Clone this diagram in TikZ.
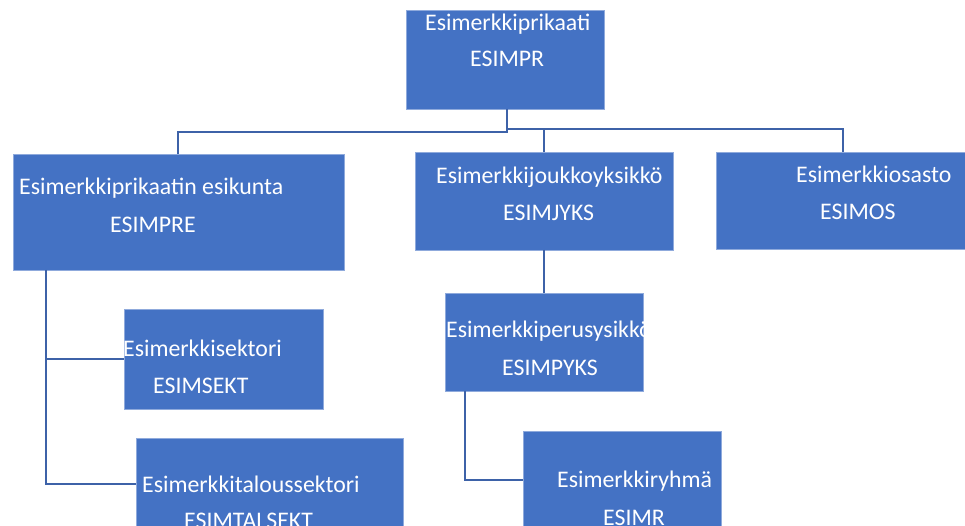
\documentclass[tikz,border=0pt]{standalone}
\usepackage{fontspec}
\setmainfont{Carlito}
\definecolor{boxblue}{HTML}{4472C4}
\definecolor{boxedge}{HTML}{8FAADC}
\definecolor{linkblue}{HTML}{3D62A8}
\begin{document}
\begin{tikzpicture}[x=1pt,y=-1pt,
  orgbox/.style={draw=boxedge,line width=0.8pt,fill=boxblue},
  lbl/.style={anchor=base west,inner sep=0pt,text=white,font=\fontsize{23.8}{28}\selectfont},
  link/.style={draw=linkblue,line width=2.2pt}]
\useasboundingbox (0,0) rectangle (965,526);
\clip (0,0) rectangle (965,526);
% connectors
\coordinate (jL) at (178,132);
\coordinate (jM) at (507,132);
\coordinate (jR) at (507,129);
\coordinate (jJ) at (544,129);
\coordinate (jO) at (843,129);
\coordinate (jS) at (46,359);
\coordinate (jT) at (46,484);
\coordinate (jP) at (465,480);
% boxes
\path[orgbox] (406,10) rectangle (604,109);
\node[inner sep=0pt] (pr) at (505,59.5) {};
\path[orgbox] (13,154) rectangle (344,270);
\node[inner sep=0pt] (pre) at (178.5,212) {};
\path[orgbox] (415,152) rectangle (673,250);
\node[inner sep=0pt] (jyks) at (544,201) {};
\path[orgbox] (716,152) rectangle (975,249);
\node[inner sep=0pt] (os) at (843,200) {};
\path[orgbox] (124,309) rectangle (323,409);
\node[inner sep=0pt] (sekt) at (223.5,359) {};
\path[orgbox] (136,438) rectangle (403,540);
\node[inner sep=0pt] (talsekt) at (269.5,489) {};
\path[orgbox] (445,293) rectangle (643,391);
\node[inner sep=0pt] (pyks) at (544,342) {};
\path[orgbox] (523,431) rectangle (721,540);
\node[inner sep=0pt] (r) at (622,485) {};
% links
\draw[link] (507,109) -- (jM) -- (jL) -- (178,154);
\draw[link] (jR) -- (jO) -- (843,152);
\draw[link] (jJ) -- (544,152);
\draw[link] (544,250) -- (544,293);
\draw[link] (46,270) -- (jT) -- (136,484);
\draw[link] (jS) -- (124,359);
\draw[link] (465,391) -- (jP) -- (523,480);
% texts
\node[lbl] (t1a) at (425,31) {Esimerkkiprikaati};
\node[lbl] (t1b) at (470,67) {ESIMPR};
\node[lbl] (t2a) at (19,195) {Esimerkkiprikaatin esikunta};
\node[lbl] (t2b) at (110,233) {ESIMPRE};
\node[lbl] (t3a) at (436,184) {Esimerkkijoukkoyksikkö};
\node[lbl] (t3b) at (503,221) {ESIMJYKS};
\node[lbl] (t4a) at (796,183) {Esimerkkiosasto};
\node[lbl] (t4b) at (820,220) {ESIMOS};
\node[lbl] (t5a) at (123,356) {Esimerkkisektori};
\node[lbl] (t5b) at (153,393) {ESIMSEKT};
\node[lbl] (t6a) at (142,492) {Esimerkkitaloussektori};
\node[lbl] (t6b) at (184,528) {ESIMTALSEKT};
\begin{scope}
\clip (445,293) rectangle (643,391);
\node[lbl] (t7a) at (446,337) {Esimerkkiperusysikkö};
\end{scope}
\node[lbl] (t7b) at (502,375) {ESIMPYKS};
\node[lbl] (t8a) at (557,487) {Esimerkkiryhmä};
\node[lbl] (t8b) at (603,525) {ESIMR};
\end{tikzpicture}
\end{document}
